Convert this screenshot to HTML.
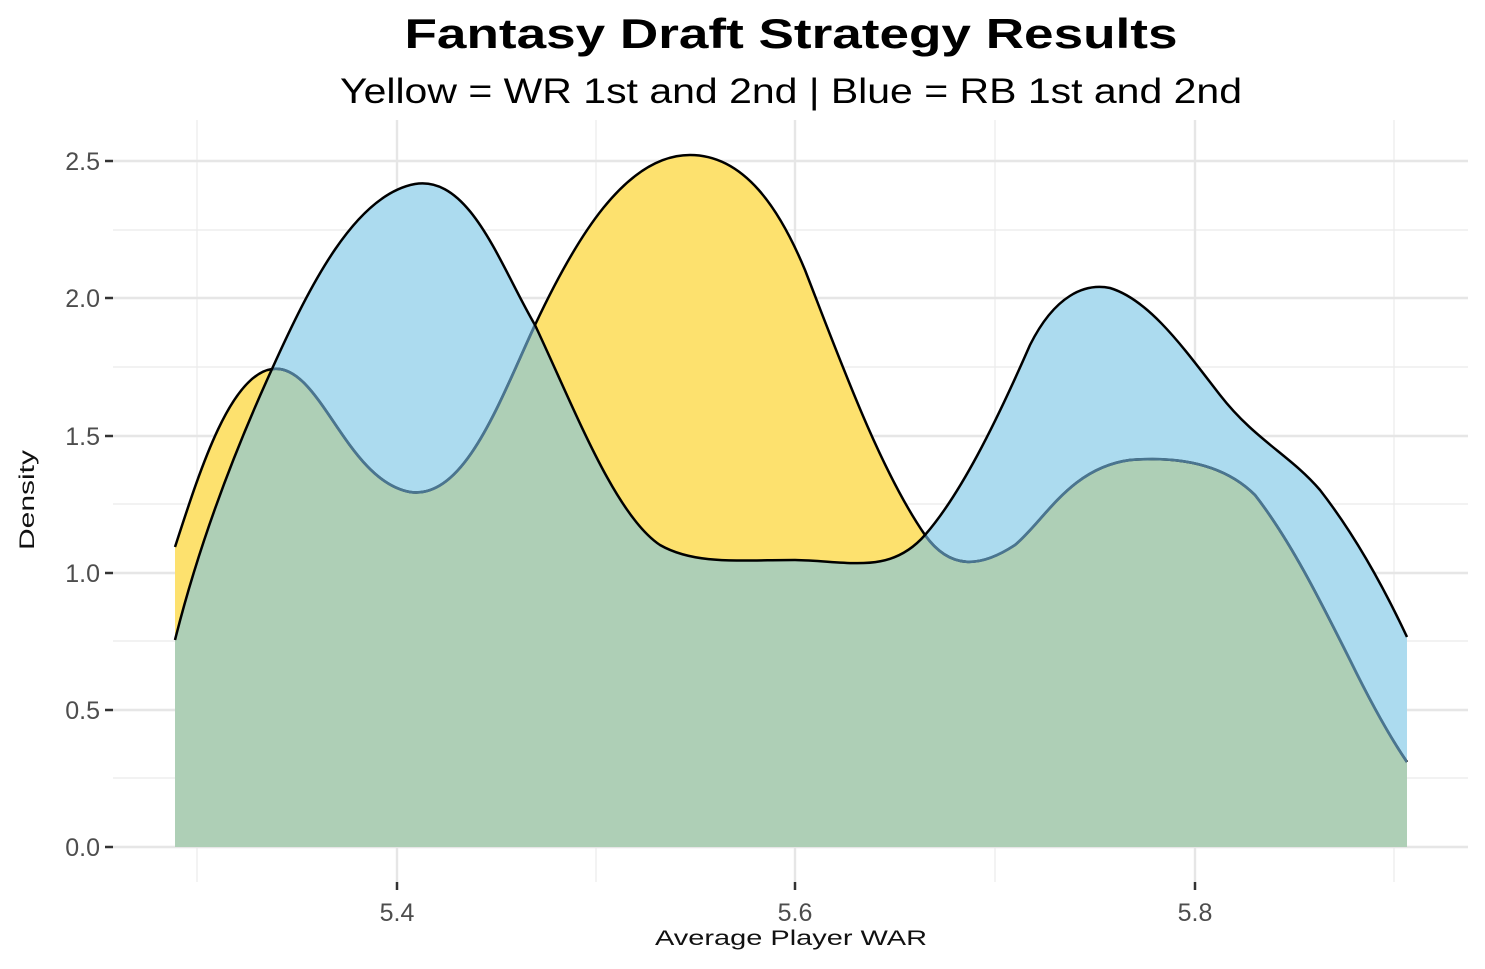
<!DOCTYPE html>
<html><head><style>body{margin:0;background:#fff}svg{display:block}text{font-family:"Liberation Sans",sans-serif}</style></head><body>
<svg width="1485" height="969" viewBox="0 0 1485 969">
<defs>
<path id="bl" d="M175,640 C200,540 235,450 272,369 C310,285 355,195 415,184 C470,175 500,265 535,325 C575,410 615,515 660,545 C695,565 740,560 795,560 C850,561 890,575 925,535 C960,495 995,425 1030,345 C1055,295 1085,283 1110,288 C1150,300 1185,350 1220,395 C1255,440 1290,455 1320,490 C1355,535 1385,590 1407,637"/>
<path id="blue" d="M175,640 C200,540 235,450 272,369 C310,285 355,195 415,184 C470,175 500,265 535,325 C575,410 615,515 660,545 C695,565 740,560 795,560 C850,561 890,575 925,535 C960,495 995,425 1030,345 C1055,295 1085,283 1110,288 C1150,300 1185,350 1220,395 C1255,440 1290,455 1320,490 C1355,535 1385,590 1407,637 L1407,847 L175,847 Z"/>
<path id="yl" d="M175,547 C200,470 230,375 272,369 C320,362 345,480 410,492 C465,500 500,400 535,325 C575,240 625,155 690,155 C745,155 780,210 805,270 C840,360 880,470 925,535 C950,570 980,568 1015,545 C1045,520 1070,468 1130,460 C1180,456 1225,465 1255,495 C1290,540 1320,600 1350,660 C1372,705 1392,740 1407,762"/>
<path id="yel" d="M175,547 C200,470 230,375 272,369 C320,362 345,480 410,492 C465,500 500,400 535,325 C575,240 625,155 690,155 C745,155 780,210 805,270 C840,360 880,470 925,535 C950,570 980,568 1015,545 C1045,520 1070,468 1130,460 C1180,456 1225,465 1255,495 C1290,540 1320,600 1350,660 C1372,705 1392,740 1407,762 L1407,847 L175,847 Z"/>
<clipPath id="cb"><use href="#blue"/></clipPath>
</defs>
<g stroke="#ebebeb" stroke-width="1.2">
<line x1="113" x2="1468" y1="778" y2="778"/><line x1="113" x2="1468" y1="641" y2="641"/><line x1="113" x2="1468" y1="504" y2="504"/><line x1="113" x2="1468" y1="367" y2="367"/><line x1="113" x2="1468" y1="230" y2="230"/>
<line x1="197" x2="197" y1="120" y2="882"/><line x1="596" x2="596" y1="120" y2="882"/><line x1="995" x2="995" y1="120" y2="882"/><line x1="1394" x2="1394" y1="120" y2="882"/>
</g>
<g stroke="#e6e6e6" stroke-width="2.4">
<line x1="113" x2="1468" y1="847" y2="847"/><line x1="113" x2="1468" y1="710" y2="710"/><line x1="113" x2="1468" y1="573" y2="573"/><line x1="113" x2="1468" y1="436" y2="436"/><line x1="113" x2="1468" y1="298" y2="298"/><line x1="113" x2="1468" y1="161" y2="161"/>
<line x1="397" x2="397" y1="120" y2="882"/><line x1="795" x2="795" y1="120" y2="882"/><line x1="1195" x2="1195" y1="120" y2="882"/>
</g>
<use href="#yel" fill="#fde16e"/>
<use href="#blue" fill="#acdbef"/>
<use href="#yel" fill="#aecfb6" clip-path="url(#cb)"/>
<use href="#yl" fill="none" stroke="#000" stroke-width="2.5"/>
<use href="#yl" fill="none" stroke="#4a7590" stroke-width="2.7" clip-path="url(#cb)"/>
<use href="#bl" fill="none" stroke="#000" stroke-width="2.5"/>
<g stroke="#333" stroke-width="2.5">
<line x1="105" x2="113" y1="847" y2="847"/><line x1="105" x2="113" y1="710" y2="710"/><line x1="105" x2="113" y1="573" y2="573"/><line x1="105" x2="113" y1="436" y2="436"/><line x1="105" x2="113" y1="298" y2="298"/><line x1="105" x2="113" y1="161" y2="161"/>
<line x1="397" x2="397" y1="882" y2="890"/><line x1="795" x2="795" y1="882" y2="890"/><line x1="1195" x2="1195" y1="882" y2="890"/>
</g>
<g fill="#4d4d4d" font-size="25" text-anchor="end">
<text x="100" y="856">0.0</text><text x="100" y="719">0.5</text><text x="100" y="582">1.0</text><text x="100" y="445">1.5</text><text x="100" y="307">2.0</text><text x="100" y="170">2.5</text>
</g>
<g fill="#4d4d4d" font-size="25" text-anchor="middle">
<text x="397" y="921">5.4</text><text x="795" y="921">5.6</text><text x="1195" y="921">5.8</text>
</g>
<text x="791" y="945" font-size="21" text-anchor="middle" fill="#111" textLength="272" lengthAdjust="spacingAndGlyphs">Average Player WAR</text>
<text transform="translate(34,500) rotate(-90)" font-size="21" text-anchor="middle" fill="#111" textLength="100" lengthAdjust="spacingAndGlyphs">Density</text>
<text x="791" y="48" font-size="42" font-weight="bold" text-anchor="middle" textLength="773" lengthAdjust="spacingAndGlyphs">Fantasy Draft Strategy Results</text>
<text x="791" y="103" font-size="35" text-anchor="middle" textLength="902" lengthAdjust="spacingAndGlyphs">Yellow = WR 1st and 2nd | Blue = RB 1st and 2nd</text>
</svg>
</body></html>
